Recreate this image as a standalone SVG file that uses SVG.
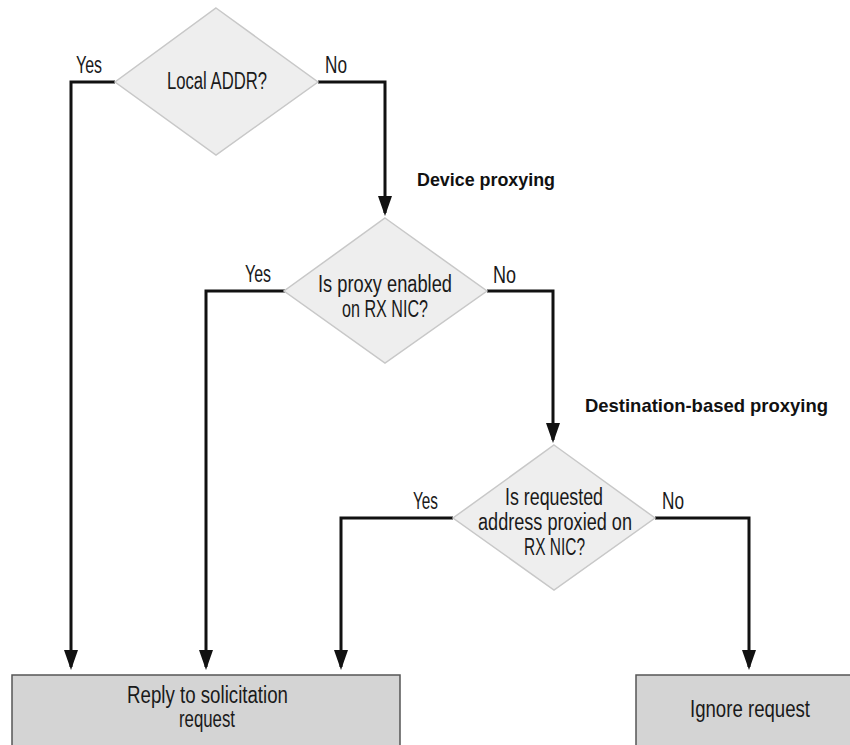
<svg xmlns="http://www.w3.org/2000/svg" width="850" height="745" viewBox="0 0 850 745">
<defs>
<style>
.dia{fill:#eeeeee;stroke:#c8c8c8;stroke-width:1.5}
.box{fill:#d4d4d4;stroke:#555555;stroke-width:1.5}
.t{font-family:"Liberation Sans Narrow","Liberation Sans",Arial,sans-serif;font-size:23px;fill:#1a1a1a}
.b{font-family:"Liberation Sans Narrow","Liberation Sans",Arial,sans-serif;font-size:19px;font-weight:bold;fill:#111}
.c{fill:none;stroke:#111;stroke-width:3;marker-end:url(#ah)}
</style>
<marker id="ah" markerWidth="20" markerHeight="14" refX="17" refY="7" orient="auto" markerUnits="userSpaceOnUse" viewBox="0 0 20 14">
<path d="M0,0 L20,7 L0,14 Z" fill="#111"/>
</marker>
</defs>
<rect width="850" height="745" fill="#ffffff"/>
<g id="connectors">
<path class="c" d="M115,82 H71 V667"/>
<path class="c" d="M318,82 H385 V213"/>
<path class="c" d="M285,291 H206 V667"/>
<path class="c" d="M487,291 H553 V440"/>
<path class="c" d="M453,518 H341 V667"/>
<path class="c" d="M655,518 H749 V667"/>
</g>
<g id="labels">
<text class="t" x="76" y="73" textLength="26" lengthAdjust="spacingAndGlyphs">Yes</text>
<text class="t" x="325" y="73" textLength="22" lengthAdjust="spacingAndGlyphs">No</text>
<text class="b" x="417" y="186" textLength="138" lengthAdjust="spacingAndGlyphs">Device proxying</text>
<text class="t" x="245" y="282" textLength="26" lengthAdjust="spacingAndGlyphs">Yes</text>
<text class="t" x="493" y="283" textLength="23" lengthAdjust="spacingAndGlyphs">No</text>
<text class="b" x="585" y="412" textLength="243" lengthAdjust="spacingAndGlyphs">Destination-based proxying</text>
<text class="t" x="413" y="509" textLength="25" lengthAdjust="spacingAndGlyphs">Yes</text>
<text class="t" x="662" y="509" textLength="22" lengthAdjust="spacingAndGlyphs">No</text>
</g>
<g id="local-addr">
<polygon class="dia" points="216,8 318,82 216,155 115,82"/>
<text class="t" x="167" y="89" textLength="100" lengthAdjust="spacingAndGlyphs">Local ADDR?</text>
</g>
<g id="proxy-enabled">
<polygon class="dia" points="385,218 487,291 385,363 284,291"/>
<text class="t" x="318" y="292" textLength="134" lengthAdjust="spacingAndGlyphs">Is proxy enabled</text>
<text class="t" x="342" y="317" textLength="86" lengthAdjust="spacingAndGlyphs">on RX NIC?</text>
</g>
<g id="address-proxied">
<polygon class="dia" points="554,445 655,518 554,590 453,518"/>
<text class="t" x="505" y="505" textLength="98" lengthAdjust="spacingAndGlyphs">Is requested</text>
<text class="t" x="478" y="530" textLength="154" lengthAdjust="spacingAndGlyphs">address proxied on</text>
<text class="t" x="524" y="555" textLength="61" lengthAdjust="spacingAndGlyphs">RX NIC?</text>
</g>
<g id="reply">
<rect class="box" x="12" y="675" width="388" height="80"/>
<text class="t" x="127" y="703" textLength="161" lengthAdjust="spacingAndGlyphs">Reply to solicitation</text>
<text class="t" x="179" y="727" textLength="56" lengthAdjust="spacingAndGlyphs">request</text>
</g>
<g id="ignore">
<rect class="box" x="636" y="675" width="230" height="80"/>
<text class="t" x="690" y="717" textLength="120" lengthAdjust="spacingAndGlyphs">Ignore request</text>
</g>
</svg>
